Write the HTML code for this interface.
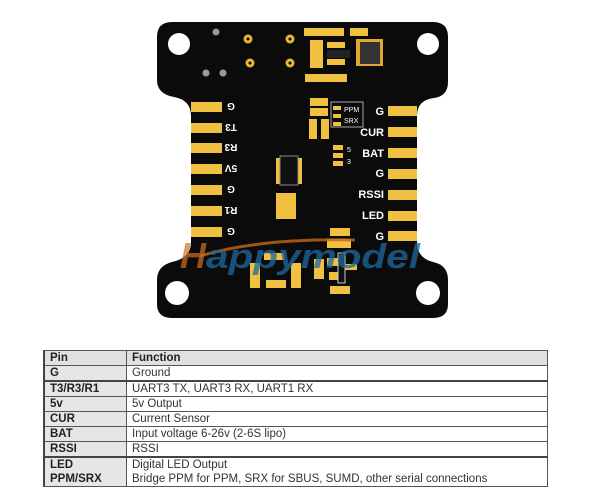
<!DOCTYPE html>
<html><head><meta charset="utf-8"><style>
html,body{margin:0;padding:0;background:#fff;width:600px;height:502px;overflow:hidden;font-family:"Liberation Sans",sans-serif}
svg{position:absolute;left:0;top:0}
table{position:absolute;left:43px;top:350px;width:505px;border-collapse:collapse;font-size:11.5px;color:#222}
td{padding:0 0 0 5px;height:14px;line-height:14px;border-left:1px solid #555;border-right:1px solid #555}
td.p{width:76px;background:#e6e6e6;font-weight:bold;border-left:2px solid #444}
tr.h td{background:#e0e0e0;font-weight:bold;border-top:1px solid #555;border-bottom:1px solid #555}
tr.b td{border-bottom:1px solid #555}
tr.k td{border-bottom:2px solid #444}
td.f{font-weight:normal;color:#333}
</style></head><body>
<svg width="600" height="340" viewBox="0 0 600 340">
<path d="M172 22 H433 Q448 22 448 37 V82 Q448 96 434 98 Q417 100 417 116 V242 Q417 258 433 262 Q448 265 448 280 V304 Q448 318 433 318 H172 Q157 318 157 304 V280 Q157 266 172 262 Q191 258 191 242 V116 Q191 100 174 97 Q157 94 157 80 V37 Q157 22 172 22 Z" fill="#0b0b0b"/>
<g fill="#fff"><circle cx="179" cy="44" r="11"/><circle cx="428" cy="44" r="11"/><circle cx="177" cy="293" r="12"/><circle cx="428" cy="293" r="12"/></g>
<g fill="#999"><circle cx="216" cy="32" r="3.5"/><circle cx="206" cy="73" r="3.5"/><circle cx="223" cy="73" r="3.5"/></g>
<g fill="none" stroke="#e8b632" stroke-width="3"><circle cx="248" cy="39" r="3"/><circle cx="290" cy="39" r="3"/><circle cx="250" cy="63" r="3"/><circle cx="290" cy="63" r="3"/></g>
<g fill="#f0c040">
<rect x="191" y="102" width="31" height="10"/><rect x="191" y="123" width="31" height="10"/><rect x="191" y="143" width="31" height="10"/><rect x="191" y="164" width="31" height="10"/><rect x="191" y="185" width="31" height="10"/><rect x="191" y="206" width="31" height="10"/><rect x="191" y="227" width="31" height="10"/>
<rect x="388" y="106" width="29" height="10"/><rect x="388" y="127" width="29" height="10"/><rect x="388" y="148" width="29" height="10"/><rect x="388" y="169" width="29" height="10"/><rect x="388" y="190" width="29" height="10"/><rect x="388" y="211" width="29" height="10"/><rect x="388" y="231" width="29" height="10"/>
<rect x="304" y="28" width="22" height="8"/><rect x="326" y="28" width="18" height="8"/><rect x="350" y="28" width="18" height="8"/>
<rect x="310" y="40" width="13" height="28"/><rect x="327" y="42" width="18" height="6"/><rect x="327" y="59" width="18" height="6"/>
<rect x="305" y="74" width="22" height="8"/><rect x="327" y="74" width="20" height="8"/>
<rect x="310" y="98" width="18" height="8"/><rect x="310" y="108" width="18" height="8"/><rect x="309" y="119" width="8" height="20"/><rect x="321" y="119" width="8" height="20"/>
<rect x="333" y="106" width="8" height="4"/><rect x="333" y="114" width="8" height="4"/><rect x="333" y="122" width="8" height="4"/>
<rect x="333" y="145" width="10" height="5"/><rect x="333" y="153" width="10" height="5"/><rect x="333" y="161" width="10" height="5"/>
<rect x="276" y="158" width="5" height="26"/><rect x="297" y="158" width="5" height="26"/>
<rect x="276" y="193" width="20" height="26"/>
<rect x="330" y="228" width="20" height="8"/><rect x="327" y="239" width="24" height="9"/>
<rect x="264" y="253" width="20" height="7"/><rect x="250" y="263" width="10" height="25"/><rect x="291" y="263" width="10" height="25"/><rect x="266" y="280" width="20" height="8"/>
<rect x="314" y="259" width="10" height="20"/><rect x="327" y="258" width="12" height="8"/><rect x="329" y="272" width="12" height="8"/><rect x="345" y="264" width="12" height="6"/><rect x="330" y="286" width="20" height="8"/>
</g>
<rect x="356" y="39" width="27" height="27" fill="#e0a830"/><rect x="360" y="42" width="20" height="22" fill="#333"/>
<rect x="327" y="50" width="23" height="8" fill="#222"/>
<rect x="280" y="156" width="18" height="29" fill="#111" stroke="#888"/>
<rect x="338" y="253" width="7" height="30" fill="#111" stroke="#ccc"/>
<rect x="331" y="102" width="32" height="25" fill="none" stroke="#aaa"/>
<g font-family="Liberation Sans" font-weight="bold" font-size="11" fill="#fff" text-anchor="end">
<text x="384" y="115">G</text><text x="384" y="136">CUR</text><text x="384" y="157">BAT</text><text x="384" y="177">G</text><text x="384" y="198">RSSI</text><text x="384" y="219">LED</text><text x="384" y="240">G</text>
</g>
<g font-family="Liberation Sans" font-weight="bold" font-size="10" fill="#fff" text-anchor="middle">
<text transform="translate(231,107) rotate(180)" dy="4">G</text>
<text transform="translate(231,128) rotate(180)" dy="4">T3</text>
<text transform="translate(231,148) rotate(180)" dy="4">R3</text>
<text transform="translate(231,169) rotate(180)" dy="4">5V</text>
<text transform="translate(231,190) rotate(180)" dy="4">G</text>
<text transform="translate(231,211) rotate(180)" dy="4">R1</text>
<text transform="translate(231,232) rotate(180)" dy="4">G</text>
</g>
<g font-family="Liberation Sans" font-size="7" fill="#fff"><text x="344" y="112">PPM</text><text x="344" y="123">SRX</text><text x="347" y="152">5</text><text x="347" y="164">3</text></g>
<path d="M200 256 Q260 238 355 240" stroke="#c06818" stroke-width="3" fill="none" opacity=".8"/>
<text x="180" y="268" font-family="Liberation Sans" font-style="italic" font-weight="bold" font-size="36" fill="#d07020" opacity=".7">H</text>
<text x="206" y="268" font-family="Liberation Sans" font-style="italic" font-weight="bold" font-size="34" fill="#1d6aa0" opacity=".75" textLength="214" lengthAdjust="spacingAndGlyphs">appymodel</text>
</svg>
<table>
<tr class="h"><td class="p">Pin</td><td>Function</td></tr>
<tr class="k"><td class="p">G</td><td class="f">Ground</td></tr>
<tr class="b"><td class="p">T3/R3/R1</td><td class="f">UART3 TX, UART3 RX, UART1 RX</td></tr>
<tr class="b"><td class="p">5v</td><td class="f">5v Output</td></tr>
<tr class="b"><td class="p">CUR</td><td class="f">Current Sensor</td></tr>
<tr class="b"><td class="p">BAT</td><td class="f">Input voltage 6-26v (2-6S lipo)</td></tr>
<tr class="k"><td class="p">RSSI</td><td class="f">RSSI</td></tr>
<tr><td class="p">LED</td><td class="f">Digital LED Output</td></tr>
<tr class="b"><td class="p">PPM/SRX</td><td class="f">Bridge PPM for PPM, SRX for SBUS, SUMD, other serial connections</td></tr>
</table>
</body></html>
